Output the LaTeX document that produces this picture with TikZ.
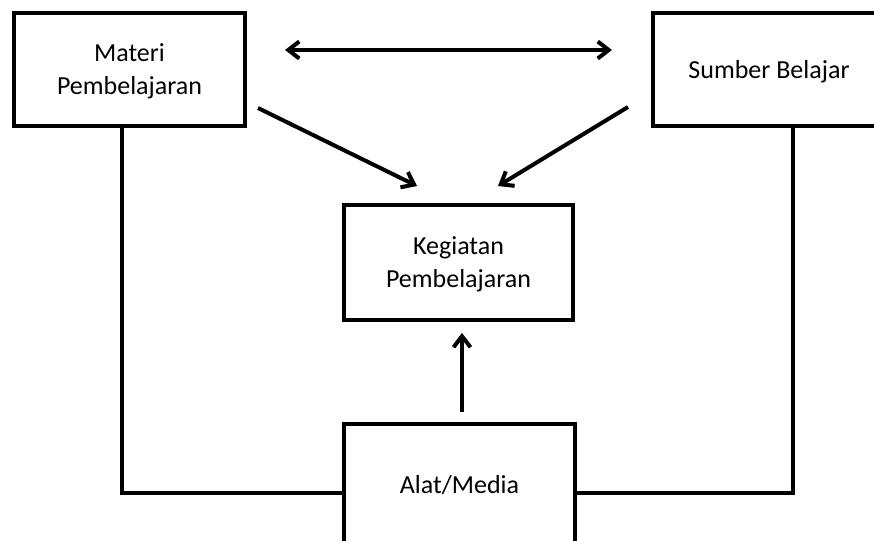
\documentclass[tikz,border=0pt]{standalone}
\usepackage{fontspec}
\setmainfont{Carlito}
\usetikzlibrary{arrows.meta}
\begin{document}
\begin{tikzpicture}[x=1pt,y=-1pt,
  box/.style={draw, line width=4pt, align=center, inner sep=0pt, text depth=0pt,
    font=\fontsize{26}{33}\selectfont, minimum width=231pt, minimum height=115pt},
  conn/.style={line width=4pt},
  arr/.style={line width=4pt, -{Straight Barb[length=11pt,width=17pt]}},
  dblarr/.style={line width=4pt, {Straight Barb[length=11pt,width=17pt]}-{Straight Barb[length=11pt,width=17pt]}}
]
\useasboundingbox (0,0) rectangle (874,540);
\clip (0,0) rectangle (874,540);
\fill[white] (0,0) rectangle (874,540);

\node[box, minimum height=113pt] (materi) at (129.5,69.5) {Materi\\Pembelajaran};
\node[box, minimum width=232pt, minimum height=113pt] (sumber) at (769,69.5) {Sumber Belajar};
\node[box, minimum width=229pt] (kegiatan) at (458.5,262.5) {Kegiatan\\Pembelajaran};
\node[box, minimum height=120pt] (alat) at (459.5,484) {Alat/Media};

\coordinate (lc) at (122,493);
\coordinate (rc) at (793,493);

\draw[dblarr] ([shift={(38,-19.5)}]materi.east) -- ([shift={(-39,-19.5)}]sumber.west);
\draw[arr] ([shift={(11,-20)}]materi.south east) -- ([shift={(-41.5,-17)}]kegiatan.north);
\draw[arr] ([shift={(-23,-21)}]sumber.south west) -- ([shift={(39.5,-17)}]kegiatan.north);
\draw[arr] ([shift={(2.5,-10)}]alat.north) -- ([shift={(3.5,11)}]kegiatan.south);

\draw[conn] (materi.south -| lc) -- (lc) -- (lc -| alat.west);
\draw[conn] (sumber.south -| rc) -- (rc) -- (rc -| alat.east);
\end{tikzpicture}
\end{document}
